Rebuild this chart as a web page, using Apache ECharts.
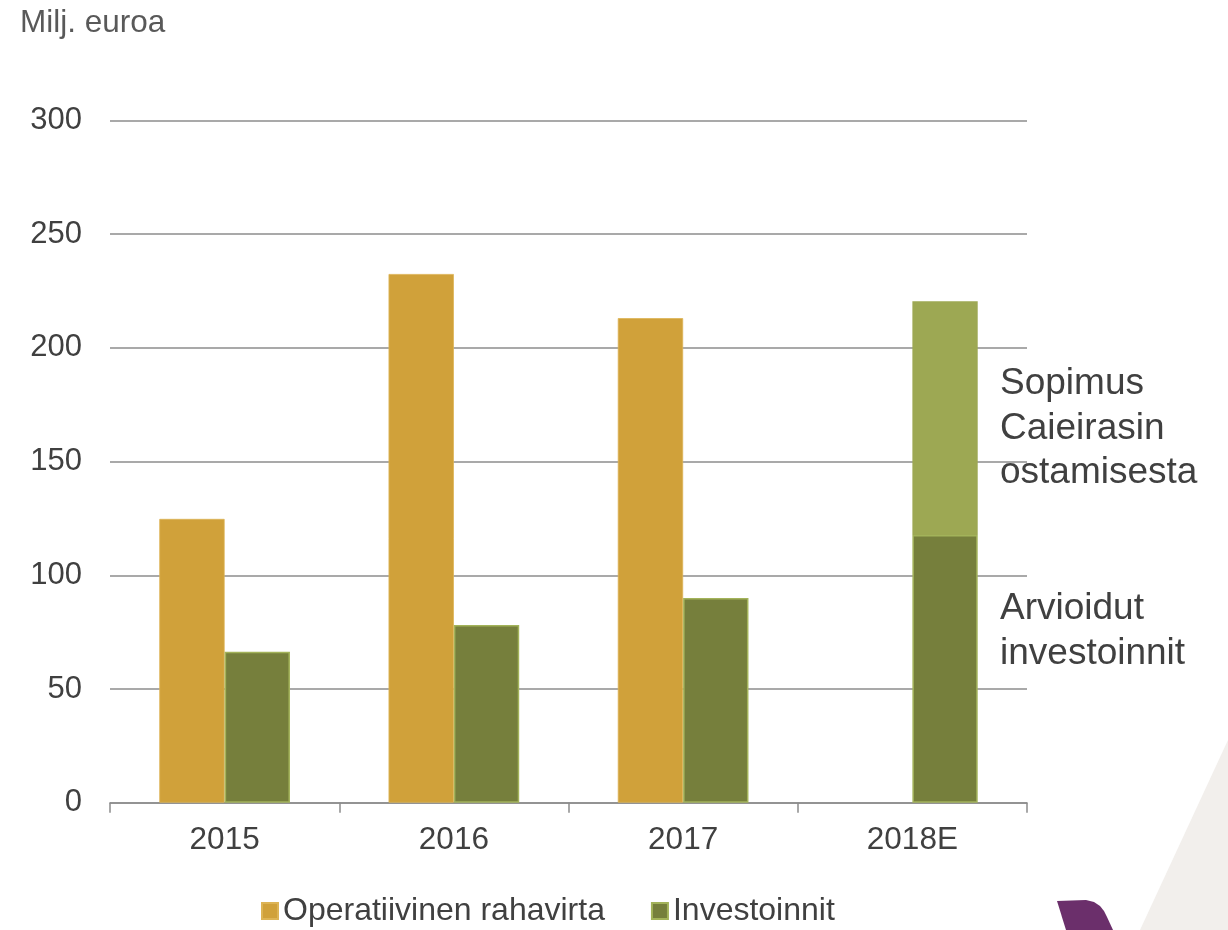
<!DOCTYPE html>
<html>
<head>
<meta charset="utf-8">
<script src="https://cdn.jsdelivr.net/npm/echarts@6/dist/echarts.min.js"></script>
<style>
html,body{margin:0;padding:0;background:#fff;}
#chart{width:1228px;height:930px;}
</style>
</head>
<body>
<div id="chart"></div>
<script>
var categories = ['2015', '2016', '2017', '2018E'];
var operatiivinen = [124.8, 232.5, 213.1, null];
var investoinnit = [66.4, 78.1, 90.0, 117.7];
var sopimus = [null, null, null, 102.8];
var yTicks = [0, 50, 100, 150, 200, 250, 300];

var FONT = '"Liberation Sans", Arial, sans-serif';
var chart = echarts.init(document.getElementById('chart'));
chart.setOption({
  backgroundColor: '#ffffff',
  animation: false,
  textStyle: { fontFamily: FONT },
  grid: { left: 110, right: 201, top: 120.5, bottom: 127.3, containLabel: false },
  legend: {
    data: ['Operatiivinen rahavirta', 'Investoinnit'],
    top: 890,
    left: 256,
    itemWidth: 16,
    itemHeight: 16,
    itemGap: 46,
    icon: 'rect',
    textStyle: { fontSize: 32, color: '#404040', fontFamily: FONT }
  },
  xAxis: {
    type: 'category',
    data: categories,
    axisLine: { show: true, lineStyle: { color: '#8c8c8c', width: 1.5 } },
    axisTick: { show: true, length: 10, lineStyle: { color: '#8c8c8c', width: 1.5 } },
    axisLabel: { fontSize: 31.5, color: '#404040', margin: 22, fontFamily: FONT },
    splitLine: { show: false }
  },
  yAxis: {
    type: 'value',
    min: yTicks[0],
    max: yTicks[yTicks.length - 1],
    interval: 50,
    axisLine: { show: false },
    axisTick: { show: false },
    axisLabel: { fontSize: 31, color: '#404040', margin: 28, fontFamily: FONT },
    splitLine: { show: true, lineStyle: { color: '#8c8c8c', width: 1.5 } }
  },
  series: [
    {
      name: 'Operatiivinen rahavirta',
      type: 'bar',
      data: operatiivinen,
      barGap: '0%',
      barCategoryGap: '43%',
      itemStyle: { color: '#D0A13A', borderColor: '#DDB455', borderWidth: 0.8 }
    },
    {
      name: 'Investoinnit',
      type: 'bar',
      stack: 'inv',
      data: investoinnit,
      barGap: '0%',
      barCategoryGap: '43%',
      itemStyle: { color: '#767F3C', borderColor: '#A3B35A', borderWidth: 1.5 }
    },
    {
      name: 'Sopimus',
      type: 'bar',
      stack: 'inv',
      data: sopimus,
      barGap: '0%',
      barCategoryGap: '43%',
      itemStyle: { color: '#9DA853', borderColor: '#9DA853', borderWidth: 0 }
    }
  ],
  graphic: [
    {
      type: 'polygon',
      silent: true,
      z: -10,
      shape: { points: [[1228, 740], [1228, 930], [1140, 930]] },
      style: { fill: '#F2EFEC' }
    },
    {
      type: 'polygon',
      silent: true,
      z: -5,
      shape: { points: [[1057, 901], [1086, 900], [1094, 902], [1100, 906], [1104, 911], [1107, 917], [1113, 930], [1066, 930]] },
      style: { fill: '#6B2F6B' }
    },
    {
      type: 'text',
      left: 20,
      top: 7,
      style: { text: 'Milj. euroa', fontSize: 31.5, fill: '#595959', fontFamily: FONT }
    },
    {
      type: 'text',
      left: 1000,
      top: 362,
      style: { text: 'Sopimus\nCaieirasin\nostamisesta', fontSize: 37, lineHeight: 44.5, fill: '#404040', fontFamily: FONT }
    },
    {
      type: 'text',
      left: 1000,
      top: 586,
      style: { text: 'Arvioidut\ninvestoinnit', fontSize: 37, lineHeight: 45, fill: '#404040', fontFamily: FONT }
    }
  ]
});
</script>
</body>
</html>
